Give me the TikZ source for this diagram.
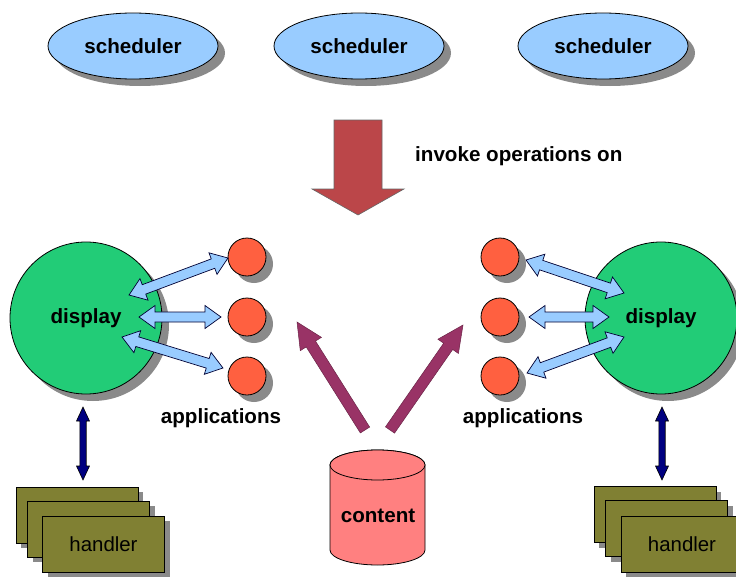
\documentclass[tikz,border=0pt]{standalone}
\usepackage{fontspec}
\setmainfont{Liberation Sans}
\usetikzlibrary{calc,shapes.geometric,shadows}
\definecolor{schblue}{HTML}{99CCFF}
\definecolor{dispgreen}{HTML}{22CC77}
\definecolor{apporange}{HTML}{FF6040}
\definecolor{bigred}{HTML}{BB4649}
\definecolor{purplearr}{HTML}{993366}
\definecolor{contentred}{HTML}{FF8080}
\definecolor{olive}{HTML}{808033}
\definecolor{shadowgray}{HTML}{8A8A8A}
\newcommand\fatdbl[6]{% style, from, to, head length, half head, half shaft
  \coordinate (fdp1) at ($(#2)!#4!(#3)$);
  \coordinate (fdp2) at ($(#3)!#4!(#2)$);
  \draw[#1] (#2) -- ($(fdp1)!#5!90:(#3)$) -- ($(fdp1)!#6!90:(#3)$)
    -- ($(fdp2)!#6!-90:(#2)$) -- ($(fdp2)!#5!-90:(#2)$) -- (#3)
    -- ($(fdp2)!#5!90:(#2)$) -- ($(fdp2)!#6!90:(#2)$)
    -- ($(fdp1)!#6!-90:(#3)$) -- ($(fdp1)!#5!-90:(#3)$) -- cycle;}
\newcommand\fatsgl[6]{% style, tail, tip, head length, half head, half shaft
  \coordinate (fsp) at ($(#3)!#4!(#2)$);
  \draw[#1] ($(#2)!#6!90:(#3)$) -- ($(fsp)!#6!-90:(#2)$) -- ($(fsp)!#5!-90:(#2)$)
    -- (#3) -- ($(fsp)!#5!90:(#2)$) -- ($(fsp)!#6!90:(#2)$)
    -- ($(#2)!#6!-90:(#3)$) -- cycle;}
\tikzset{
  x=1pt,y=1pt,
  txt/.style={font=\fontsize{20.6}{24}\selectfont\bfseries, inner sep=0pt},
  shad/.style={drop shadow={shadow xshift=7pt, shadow yshift=-7pt, fill=shadowgray, opacity=1}},
  schnode/.style={ellipse, draw=black, line width=0.8pt, fill=schblue, minimum width=170, minimum height=66, inner sep=0pt, shad, txt},
  dispnode/.style={circle, draw=black, line width=0.8pt, fill=dispgreen, minimum size=152, inner sep=0pt, shad, txt},
  appnode/.style={circle, draw=black, line width=0.8pt, fill=apporange, minimum size=38, inner sep=0pt, shad},
  handnode/.style={rectangle, draw=black, line width=0.8pt, fill=olive, minimum width=122, minimum height=56, inner sep=0pt,
    drop shadow={shadow xshift=5pt, shadow yshift=-5pt, fill=shadowgray, opacity=1},
    font=\fontsize{20.4}{24}\selectfont},
  bluearr/.style={fill=schblue, draw=black!80!blue, line width=0.7pt, line join=miter},
  navyarr/.style={fill=blue!50!black, draw=black, line width=0.6pt},
  redarr/.style={fill=bigred, draw=black!60, line width=0.6pt},
  purparr/.style={fill=purplearr, draw=purplearr!70!black, line width=0.5pt},
}
\begin{document}
\begin{tikzpicture}
\useasboundingbox (0,0) rectangle (736,-578);
\clip (0,0) rectangle (736,-578);
% schedulers
\node[schnode] (sch1) at (133,-46) {scheduler};
\node[schnode] (sch2) at (359,-46) {scheduler};
\node[schnode] (sch3) at (603,-46) {scheduler};
% big arrow
\coordinate (bigtail) at (358,-120);
\coordinate (bigtip) at (358,-215);
\fatsgl{redarr}{bigtail}{bigtip}{26pt}{46pt}{24pt}
\node[txt, anchor=west] (invoke) at (415,-156) {invoke operations on};
% displays
\node[dispnode] (dispL) at (86,-318) {display};
\node[dispnode] (dispR) at (661,-318) {display};
% applications
\node[appnode] (appL1) at (247,-257) {};
\node[appnode] (appL2) at (247,-317) {};
\node[appnode] (appL3) at (247,-376) {};
\node[appnode] (appR1) at (500,-257) {};
\node[appnode] (appR2) at (500,-317) {};
\node[appnode] (appR3) at (500,-376) {};
\node[txt] (applL) at (221,-418) {applications};
\node[txt] (applR) at (523,-418) {applications};
% blue double arrows
\coordinate (la1a) at (129,-295); \coordinate (la1b) at (228,-258);
\coordinate (la2a) at (139,-317); \coordinate (la2b) at (221,-317);
\coordinate (la3a) at (122,-337); \coordinate (la3b) at (223,-368);
\coordinate (ra1a) at (526,-260); \coordinate (ra1b) at (624,-293);
\coordinate (ra2a) at (529,-317); \coordinate (ra2b) at (609,-317);
\coordinate (ra3a) at (527,-373); \coordinate (ra3b) at (624,-337);
\fatdbl{bluearr}{la1a}{la1b}{16pt}{11.5pt}{5pt}
\fatdbl{bluearr}{la2a}{la2b}{16pt}{11.5pt}{5pt}
\fatdbl{bluearr}{la3a}{la3b}{16pt}{11.5pt}{5pt}
\fatdbl{bluearr}{ra1a}{ra1b}{16pt}{11.5pt}{5pt}
\fatdbl{bluearr}{ra2a}{ra2b}{16pt}{11.5pt}{5pt}
\fatdbl{bluearr}{ra3a}{ra3b}{16pt}{11.5pt}{5pt}
% content
\fill[contentred, draw=black, line width=0.8pt] (330,-465) -- (330,-550)
  arc[start angle=180, end angle=360, x radius=47.5, y radius=15] -- (425,-465)
  arc[start angle=0, end angle=180, x radius=47.5, y radius=15] -- cycle;
\draw[fill=contentred, line width=0.8pt] (377.5,-465) ellipse[x radius=47.5, y radius=15];
\node[txt] (content) at (378,-516) {content};
% purple arrows
\coordinate (pltail) at (365,-430); \coordinate (pltip) at (297,-322);
\coordinate (prtail) at (390,-430); \coordinate (prtip) at (463,-325);
\fatsgl{purparr}{pltail}{pltip}{26pt}{12.5pt}{5.5pt}
\fatsgl{purparr}{prtail}{prtip}{26pt}{12.5pt}{5.5pt}
% handlers
\node[handnode] (hLa) at (77,-515) {};
\node[handnode] (hLb) at (88.5,-529) {};
\node[handnode] (hLc) at (103.5,-544) {handler};
\node[handnode] (hRa) at (655,-514.5) {};
\node[handnode] (hRb) at (666.5,-528.5) {};
\node[handnode] (hRc) at (682,-544) {handler};
% navy arrows
\coordinate (nLa) at (83,-407); \coordinate (nLb) at (83,-480);
\coordinate (nRa) at (662,-407); \coordinate (nRb) at (662,-480);
\fatdbl{navyarr}{nLa}{nLb}{14pt}{6.5pt}{3.2pt}
\fatdbl{navyarr}{nRa}{nRb}{14pt}{6.5pt}{3.2pt}
\end{tikzpicture}
\end{document}
